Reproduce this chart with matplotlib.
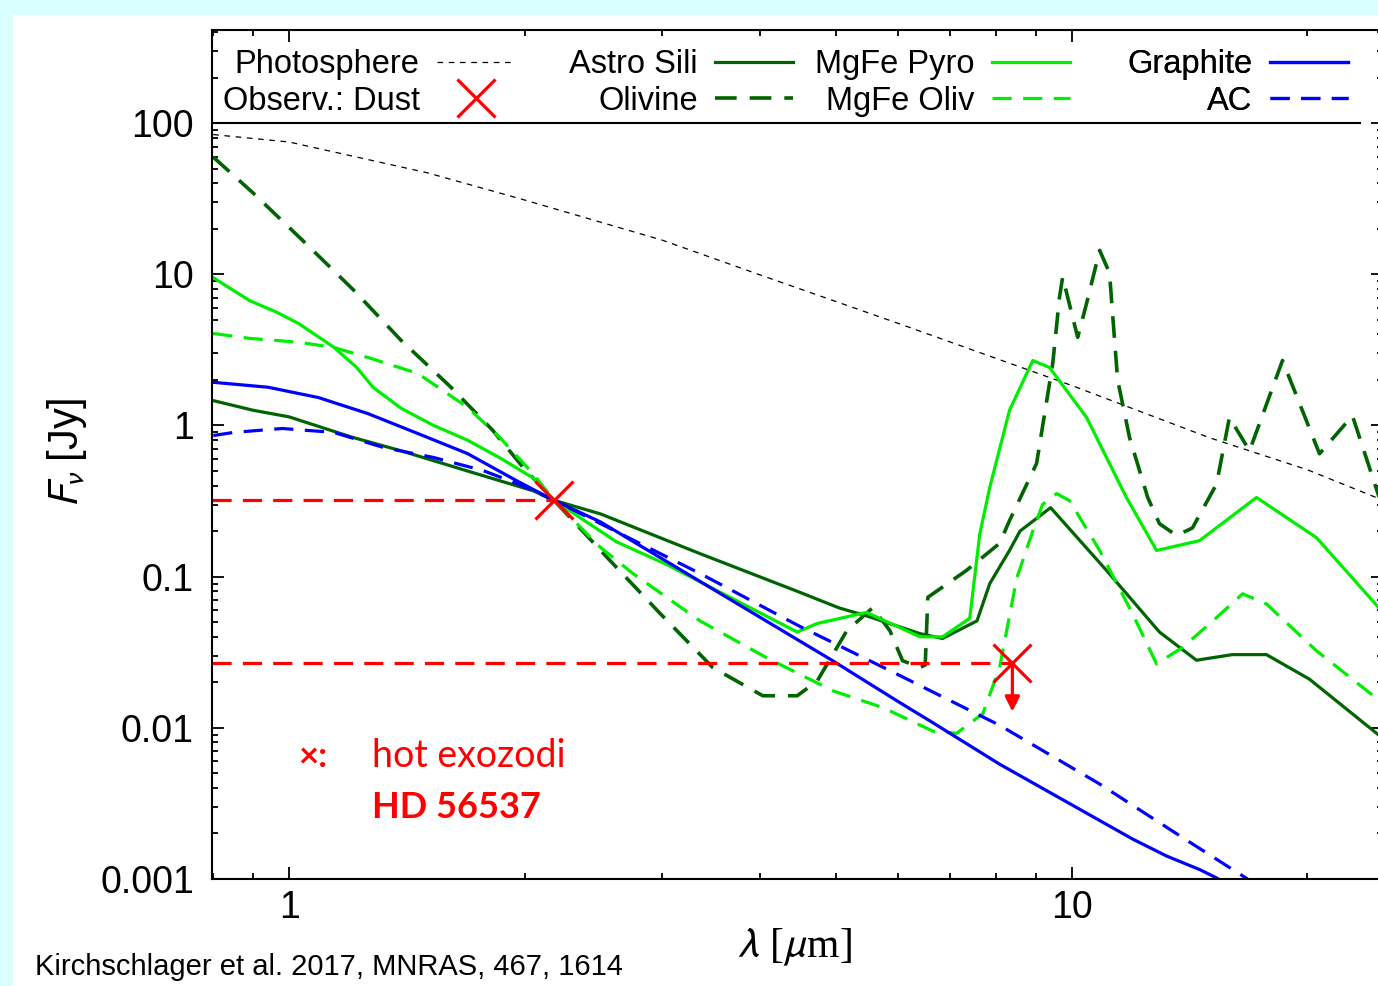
import matplotlib.pyplot as plt
from matplotlib.ticker import FixedLocator, FixedFormatter, LogLocator, NullFormatter

plt.rcParams['font.family'] = ['Liberation Sans', 'DejaVu Sans']
plt.rcParams['mathtext.fontset'] = 'stixsans'

# wavelengths in micron, fluxes in Jy
phot_lam = [0.8, 1.0, 1.5, 2.0, 3.0, 4.0, 6.0, 10.0, 15.0, 20.0, 25.0]
phot_flux = [84, 75, 47, 31, 16.8, 9.9, 4.74, 1.84, 0.83, 0.51, 0.32]

asil_lam = [0.8, 0.9, 1.0, 1.2, 1.39, 1.69, 2.05, 2.18, 2.5, 3.35, 4.46, 5.05, 5.47,
            6.4, 6.84, 7.57, 7.86, 8.33, 8.59, 9.4, 11.08, 12.95, 14.44, 16.05, 17.74,
            20.13, 25.0]
asil_flux = [1.46, 1.26, 1.14, 0.84, 0.68, 0.50, 0.37, 0.32, 0.26, 0.142, 0.08, 0.062,
             0.055, 0.042, 0.039, 0.051, 0.09, 0.149, 0.2, 0.286, 0.11, 0.043, 0.028,
             0.0305, 0.0305, 0.021, 0.0085]

oliv_lam = [0.8, 0.9, 1.04, 1.21, 1.39, 1.61, 1.82, 1.99, 2.18, 2.57, 2.98, 3.48, 4.03,
            4.46, 4.73, 5.16, 5.57, 5.86, 6.08, 6.40, 6.50, 6.55, 7.34, 8.09, 8.33, 9.02,
            9.46, 9.65, 9.74, 10.18, 10.45, 10.86, 11.18, 11.28, 11.45, 11.86, 12.51,
            12.95, 13.62, 14.27, 15.32, 15.91, 16.88, 18.6, 20.74, 22.85, 25.0]
oliv_flux = [59.6, 34.4, 16.8, 7.83, 3.66, 1.79, 0.93, 0.53, 0.32, 0.128, 0.057, 0.025,
             0.0163, 0.0163, 0.0204, 0.0438, 0.0623, 0.0438, 0.0278, 0.0251, 0.026, 0.073,
             0.11, 0.166, 0.235, 0.56, 2.57, 7.05, 9.6, 3.83, 6.42, 14.4, 10.2, 5.5, 2.0,
             0.83, 0.334, 0.224, 0.187, 0.21, 0.41, 1.13, 0.68, 2.69, 0.65, 1.16, 0.28]

pyro_lam = [0.8, 0.89, 0.965, 1.03, 1.14, 1.22, 1.28, 1.39, 1.53, 1.69, 1.86, 2.05, 2.18,
            2.62, 3.04, 4.46, 4.73, 5.47, 6.40, 6.84, 7.41, 7.63, 7.86, 8.33, 8.92, 9.37,
            10.45, 11.75, 12.84, 14.57, 17.23, 20.56, 25.0]
pyro_flux = [9.5, 6.7, 5.6, 4.7, 3.3, 2.42, 1.79, 1.30, 1.0, 0.80, 0.61, 0.45, 0.32,
             0.17, 0.12, 0.043, 0.049, 0.058, 0.040, 0.040, 0.053, 0.19, 0.39, 1.26, 2.69,
             2.42, 1.13, 0.334, 0.149, 0.173, 0.334, 0.181, 0.058]

mol_lam = [0.8, 0.89, 1.03, 1.14, 1.26, 1.46, 1.69, 1.86, 2.05, 2.18, 2.5, 2.75, 3.35,
           4.08, 4.95, 5.74, 6.65, 7.13, 7.70, 8.09, 8.51, 8.92, 9.18, 9.57, 9.94, 10.86,
           11.96, 12.84, 13.86, 15.32, 16.54, 17.74, 20.56, 25.0]
mol_flux = [4.06, 3.77, 3.55, 3.28, 2.82, 2.21, 1.32, 0.83, 0.48, 0.32, 0.156, 0.105,
            0.051, 0.029, 0.0176, 0.0136, 0.0095, 0.0092, 0.0124, 0.025, 0.098, 0.2, 0.30,
            0.354, 0.318, 0.149, 0.057, 0.0265, 0.034, 0.0536, 0.077, 0.066, 0.0323, 0.0145]

graph_lam = [0.8, 0.94, 1.09, 1.26, 1.46, 1.69, 1.955, 2.18, 2.5, 3.69, 4.95, 6.03, 6.65,
             8.09, 9.85, 11.96, 13.22, 14.6, 15.3, 15.4]
graph_flux = [1.93, 1.79, 1.53, 1.2, 0.885, 0.652, 0.43, 0.32, 0.23, 0.069, 0.0278, 0.0147,
              0.0108, 0.00575, 0.00324, 0.00184, 0.00142, 0.00115, 0.00102, 0.001]

ac_lam = [0.8, 0.85, 0.98, 1.14, 1.32, 1.53, 1.77, 1.955, 2.18, 2.75, 3.35, 4.49, 6.03,
          8.09, 10.86, 13.86, 16.78]
ac_flux = [0.858, 0.90, 0.955, 0.90, 0.715, 0.614, 0.503, 0.413, 0.32, 0.175, 0.105,
           0.047, 0.0222, 0.0104, 0.00425, 0.00188, 0.001]

obs_lam = [2.18, 8.4]
obs_flux = [0.32, 0.027]
limit_end = 0.0128

dgreen = '#006400'
green = '#00ee00'
blue = '#0000ff'
red = '#ff0000'

W, H = 1378, 986
fig = plt.figure(figsize=(W / 100, H / 100), dpi=100)
fig.patch.set_facecolor('#d9ffff')
fig.add_artist(plt.Rectangle((13 / W, 0), 1, 1 - 15 / H, transform=fig.transFigure,
                             facecolor='white', edgecolor='none', zorder=-5))

ax = fig.add_axes([212 / W, 1 - 879 / H, (1383 - 212) / W, (879 - 30) / H])
ax.set_xscale('log')
ax.set_yscale('log')

dash = (6, 3.6)
ph, = ax.plot(phot_lam, phot_flux, color='black', lw=0.9, dashes=(4.5, 4.5))
l1, = ax.plot(asil_lam, asil_flux, color=dgreen, lw=2.3)
l2, = ax.plot(oliv_lam, oliv_flux, color=dgreen, lw=2.6, dashes=dash)
l3, = ax.plot(pyro_lam, pyro_flux, color=green, lw=2.3)
l4, = ax.plot(mol_lam, mol_flux, color=green, lw=2.3, dashes=dash)
l5, = ax.plot(graph_lam, graph_flux, color=blue, lw=2.3)
l6, = ax.plot(ac_lam, ac_flux, color=blue, lw=2.3, dashes=dash)

ax.set_xlim(0.797, 25)
ax.set_ylim(0.001, 413)

ax.hlines(obs_flux, ax.get_xlim()[0], obs_lam, color=red, lw=2.3, linestyles=(0, (6, 3.5)))
ob, = ax.plot(obs_lam, obs_flux, 'x', color=red, ms=27, mew=2.3)
ax.annotate('', xy=(obs_lam[1], limit_end), xytext=(obs_lam[1], obs_flux[1]),
            arrowprops=dict(arrowstyle='-|>', color=red, lw=2.3, mutation_scale=22,
                            shrinkA=0, shrinkB=0))

ax.axhline(100, xmin=0, xmax=(1360 - 212) / (1383 - 212), color='black', lw=1.5)

ax.xaxis.set_major_locator(FixedLocator([1, 10]))
ax.xaxis.set_major_formatter(FixedFormatter(['1', '10']))
ax.xaxis.set_minor_locator(LogLocator(base=10, subs=range(2, 10)))
ax.xaxis.set_minor_formatter(NullFormatter())
ax.yaxis.set_major_locator(FixedLocator([0.001, 0.01, 0.1, 1, 10, 100]))
ax.yaxis.set_major_formatter(FixedFormatter(['0.001', '0.01', '0.1', '1', '10', '100']))
ax.yaxis.set_minor_locator(LogLocator(base=10, subs=range(2, 10)))
ax.yaxis.set_minor_formatter(NullFormatter())
ax.tick_params(which='both', direction='in', top=True, right=True, width=1.3, labelsize=27)
ax.tick_params(which='major', length=8.5)
ax.tick_params(which='minor', length=4.3)
ax.tick_params(axis='y', pad=13)
ax.tick_params(axis='x', pad=8)
for s in ax.spines.values():
    s.set_linewidth(1.5)

# gnuplot-like key: text first, sample after
cols = [([ph, ob], ['Photosphere', 'Observ.: Dust'], 515),
        ([l1, l2], ['Astro Sili', 'Olivine'], 793),
        ([l3, l4], ['MgFe Pyro', 'MgFe Oliv'], 1070),
        ([l5, l6], ['Graphite', 'AC'], 1348)]
for handles, labels, xr in cols:
    leg = ax.legend(handles, labels, loc='upper right', bbox_to_anchor=(xr / W, 1 - 49 / H),
                    bbox_transform=fig.transFigure, frameon=False, markerfirst=False,
                    fontsize=23.5, handlelength=2.4, handletextpad=0.52, labelspacing=0.18,
                    borderpad=0, borderaxespad=0, numpoints=1)
    ax.add_artist(leg)

fig.text(67 / W, 1 - 452 / H, r'$F_\nu$ [Jy]', rotation=90, fontsize=30, ha='center', va='center')
fig.text(795 / W, 1 - 947 / H, r'$\lambda$ [$\mu$m]', fontsize=30, ha='center', va='center',
         family='Liberation Serif')

fig.text(298 / W, 1 - 767 / H, '×:', color=red, fontsize=25, fontweight='bold', family='Lato')
fig.text(372 / W, 1 - 767 / H, 'hot exozodi', color=red, fontsize=27, family='Lato')
fig.text(372 / W, 1 - 818 / H, 'HD 56537', color=red, fontsize=26, fontweight='bold', family='Lato')
fig.text(35 / W, 1 - 975 / H, 'Kirchschlager et al. 2017, MNRAS, 467, 1614', fontsize=21)

fig.savefig('out.png', dpi=100)
